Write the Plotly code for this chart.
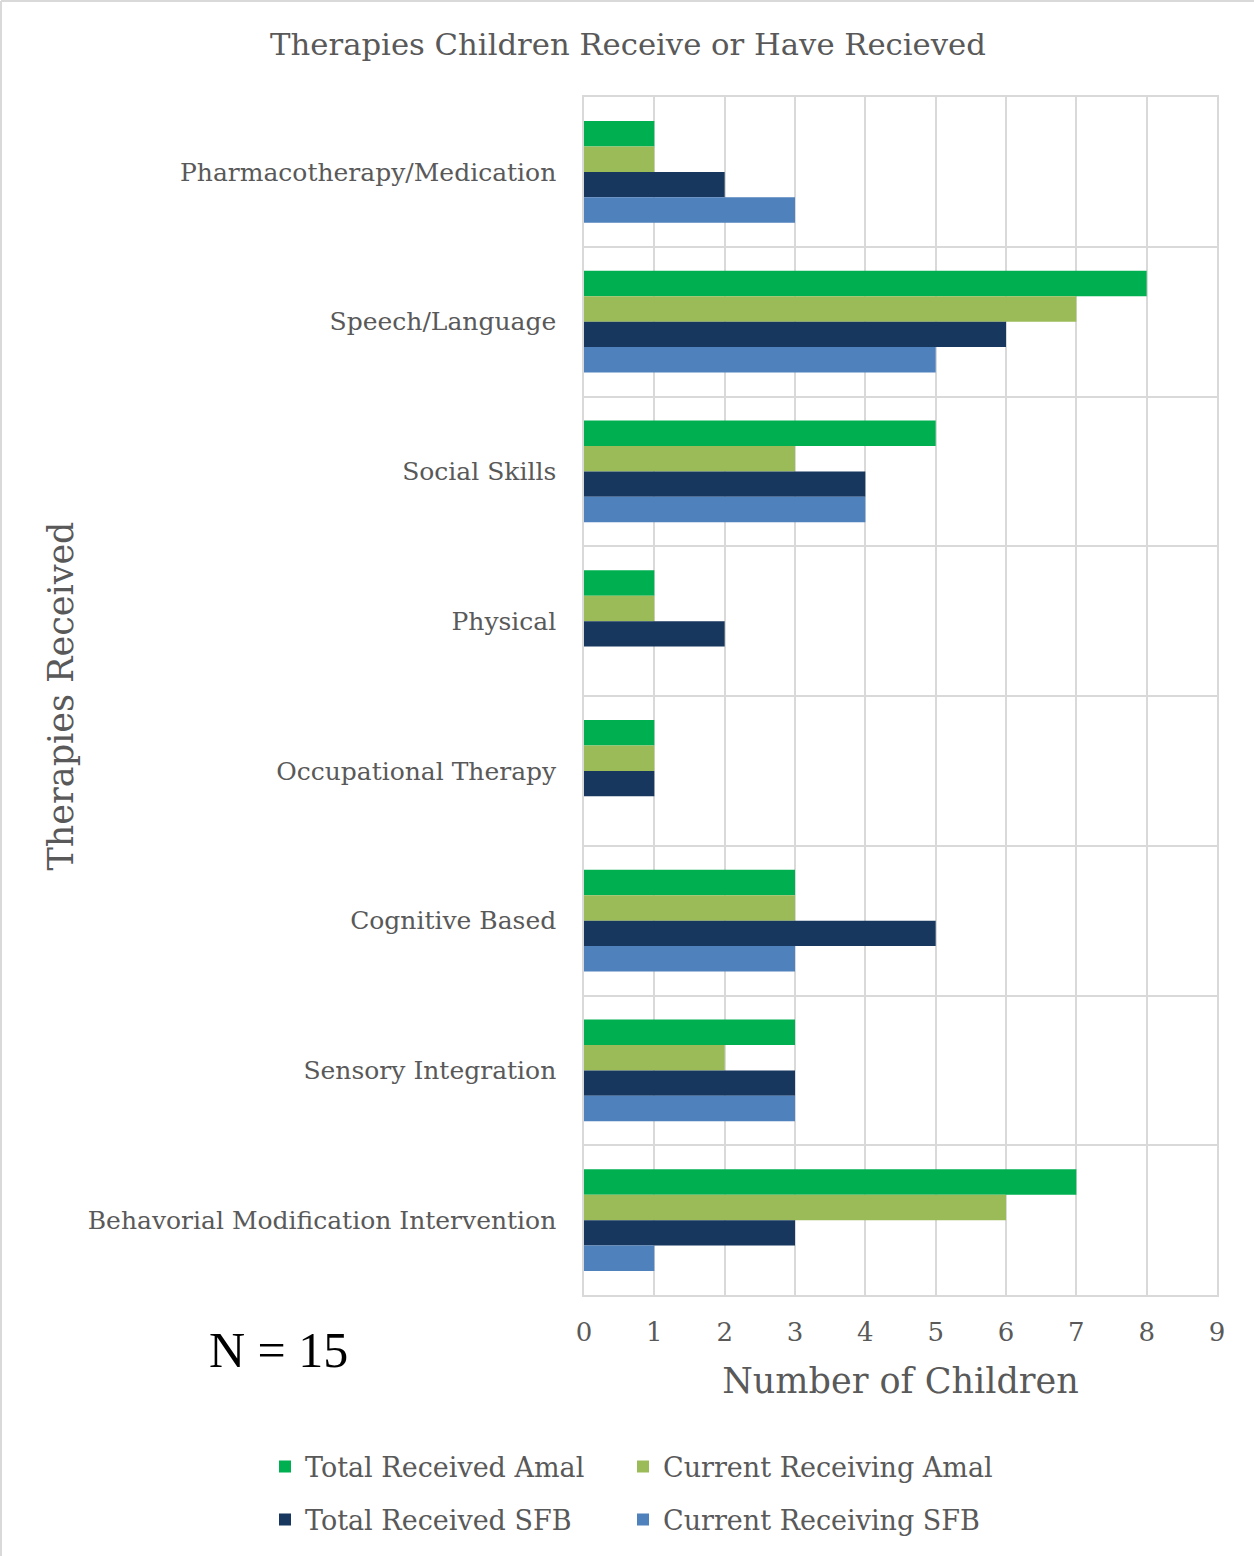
import plotly.graph_objects as go

categories = [
    "Pharmacotherapy/Medication",
    "Speech/Language",
    "Social Skills",
    "Physical",
    "Occupational Therapy",
    "Cognitive Based",
    "Sensory Integration",
    "Behavorial Modification Intervention",
]
total_received_amal = [1, 8, 5, 1, 1, 3, 3, 7]
current_receiving_amal = [1, 7, 3, 1, 1, 3, 2, 6]
total_received_sfb = [2, 6, 4, 2, 1, 5, 3, 3]
current_receiving_sfb = [3, 5, 4, 0, 0, 3, 3, 1]
x_ticks = list(range(0, 10))

series_names = ["Total Received Amal", "Current Receiving Amal",
                "Total Received SFB", "Current Receiving SFB"]
series_values = [total_received_amal, current_receiving_amal,
                 total_received_sfb, current_receiving_sfb]
series_colors = ["#00B050", "#9BBB59", "#17375E", "#4F81BD"]

W, H = 1254, 1556
ML, MR, MT, MB = 584, 37, 97, 261
PW, PH = W - ML - MR, H - MT - MB

FONT = "DejaVu Serif"
GRAY = "#595959"
GRID = "#D9D9D9"

# legend slot positions (pixel x of legend box left, pixel y of row centre)
legend_slots = [(265, 1467), (623, 1467), (265, 1520), (623, 1520)]
legend_ids = ["legend", "legend2", "legend3", "legend4"]

fig = go.Figure()
for name, vals, color, lg in zip(series_names, series_values, series_colors, legend_ids):
    fig.add_trace(go.Bar(
        y=categories, x=vals, name=name, orientation="h",
        marker=dict(color=color, line=dict(width=0)),
        legend=lg, showlegend=True,
    ))

legend_layout = {}
for lg, (px, py) in zip(legend_ids, legend_slots):
    legend_layout[lg] = dict(
        orientation="h", xanchor="left", yanchor="middle",
        x=(px - ML) / PW, y=-(py - MT - PH) / PH,
        font=dict(family=FONT, size=27, color=GRAY),
        bgcolor="rgba(0,0,0,0)", visible=True,
    )

# outer frame: only left and top edges are visible in the original crop
fx0 = -(ML - 1) / PW
fx1 = 1 + MR / PW
fy0 = -MB / PH
fy1 = 1 + (MT - 1) / PH

fig.update_layout(
    width=W, height=H,
    showlegend=True,
    margin=dict(l=ML, r=MR, t=MT, b=MB, autoexpand=False),
    paper_bgcolor="white", plot_bgcolor="white",
    barmode="group", bargap=0.32, bargroupgap=0,
    title=dict(
        text="Therapies Children Receive or Have Recieved",
        font=dict(family=FONT, size=30.7, color=GRAY),
        x=628 / W, xanchor="center", y=1 - 44 / H, yanchor="middle",
    ),
    font=dict(family=FONT, color=GRAY),
    **legend_layout,
    xaxis=dict(
        range=[0, 9], tickvals=x_ticks, ticktext=[str(v) for v in x_ticks],
        showgrid=True, gridcolor=GRID, gridwidth=1.5,
        zeroline=False, showline=True, linecolor=GRID, linewidth=1.5, mirror=True,
        ticks="", ticklabelstandoff=13,
        tickfont=dict(family=FONT, size=26, color=GRAY),
        title=dict(text="Number of Children", font=dict(family=FONT, size=35, color=GRAY), standoff=23),
        automargin=False,
    ),
    yaxis=dict(
        type="category", categoryorder="array", categoryarray=categories,
        autorange="reversed",
        tickson="boundaries", showgrid=True, gridcolor=GRID, gridwidth=1.5,
        showline=True, linecolor=GRID, linewidth=1.5, mirror=True,
        ticks="", ticklabelstandoff=21,
        tickfont=dict(family=FONT, size=25, color=GRAY),
        title=dict(text="Therapies Received", font=dict(family=FONT, size=35, color=GRAY), standoff=4),
        automargin=False,
    ),
    annotations=[dict(
        text="N = 15", xref="paper", yref="paper",
        x=(278 - ML) / PW, y=-(1350 - MT - PH) / PH,
        xanchor="center", yanchor="middle", showarrow=False,
        font=dict(family="Liberation Serif", size=50, color="black"),
    )],
    shapes=[
        dict(type="line", xref="paper", yref="paper", x0=fx0, x1=fx0, y0=fy0, y1=fy1,
             line=dict(color=GRID, width=2), layer="below"),
        dict(type="line", xref="paper", yref="paper", x0=fx0, x1=fx1, y0=fy1, y1=fy1,
             line=dict(color=GRID, width=2), layer="below"),
    ],
)

fig.write_html(
    "out.html",
    config={"displayModeBar": False},
    post_script="document.body.style.margin='0';document.body.style.padding='0';",
)
